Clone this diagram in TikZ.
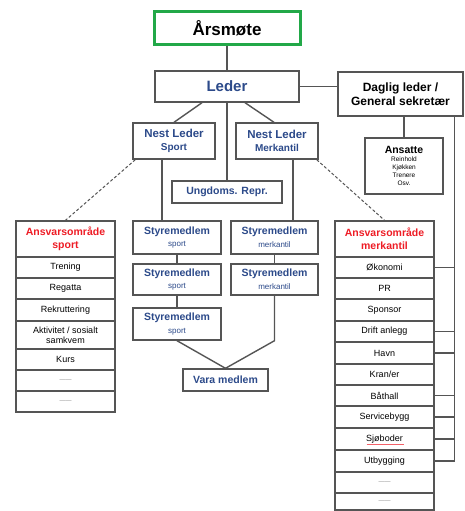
\documentclass[tikz,border=0pt]{standalone}
\usepackage{fontspec}
\setmainfont{Liberation Sans}
\usepackage{xcolor}
\usepackage{tikz}
\usetikzlibrary{positioning,calc}

\definecolor{ledblue}{RGB}{44,74,138}
\definecolor{ansred}{RGB}{238,28,37}
\definecolor{motegreen}{RGB}{34,168,72}
\definecolor{linegray}{RGB}{85,85,85}

\newcommand{\emptyrow}{{\color{gray}\fontsize{6}{7}\selectfont ------}}

\begin{document}
\begin{tikzpicture}[x=1pt,y=1pt,line/.style={linegray,line width=1.4pt}]
	\tikzset{span/.style n args={4}{at={({(#1+#3)/2},{-(#2+#4)/2})}, minimum width={(#3-#1)*1pt}, minimum height={(#4-#2)*1pt}}}
	\tikzset{set/.style={draw=linegray,line width=1.4pt,rectangle,inner sep=0pt,align=center,fill=white}}
	\tikzset{rowbox/.style={set,font=\fontsize{9}{10}\selectfont}}
	\tikzset{bluebox/.style={set,text=ledblue,font=\bfseries\fontsize{10.5}{12.6}\selectfont}}
	\tikzset{redhead/.style={set,text=ansred,font=\bfseries\fontsize{10.5}{12.6}\selectfont}}

	\useasboundingbox (0,0) rectangle (465,-511);

	% Topp
	\node[span={154}{12}{300}{45}, set, draw=motegreen, line width=3pt, font=\bfseries\fontsize{17}{20}\selectfont] (aarsmote) {Årsmøte};
	\node[span={155}{71}{299}{102}, set, text=ledblue, font=\bfseries\fontsize{15}{18}\selectfont] (leder) {Leder};
	\node[span={338}{72}{463}{116}, set, font=\bfseries\fontsize{12}{14.5}\selectfont] (daglig) {Daglig leder /\\General sekretær};
	\node[span={365}{138}{443}{194}, set, font=\fontsize{6.5}{8.2}\selectfont] (ansatte) {{\bfseries\fontsize{10.5}{12}\selectfont Ansatte}\\Reinhold\\Kjøkken\\Trenere\\Osv.};

	% Nestledere
	\node[span={133}{123}{215}{159}, bluebox, font=\bfseries\fontsize{11.5}{13.5}\selectfont] (nlsport) {Nest Leder\\{\fontsize{10}{12}\selectfont Sport}};
	\node[span={236}{123}{318}{159}, bluebox, font=\bfseries\fontsize{11.5}{13.5}\selectfont] (nlmerk) {Nest Leder\\{\fontsize{10}{12}\selectfont Merkantil}};
	\node[span={172}{181}{282}{203}, bluebox] (ungdom) {Ungdoms. Repr.};

	% Styremedlemmer
	\node[span={133}{221}{221}{254}, bluebox] (stysport1) {Styremedlem\\{\mdseries\fontsize{8}{9}\selectfont sport}};
	\node[span={133}{264}{221}{295}, bluebox] (stysport2) {Styremedlem\\{\mdseries\fontsize{8}{9}\selectfont sport}};
	\node[span={133}{308}{221}{340}, bluebox] (stysport3) {Styremedlem\\{\mdseries\fontsize{8}{9}\selectfont sport}};
	\node[span={231}{221}{318}{254}, bluebox] (stymerk1) {Styremedlem\\{\mdseries\fontsize{8}{9}\selectfont merkantil}};
	\node[span={231}{264}{318}{295}, bluebox] (stymerk2) {Styremedlem\\{\mdseries\fontsize{8}{9}\selectfont merkantil}};
	\node[span={183}{369}{268}{391}, bluebox] (vara) {Vara medlem};

	% Ansvarsomraader
	\node[span={16}{221}{115}{257}, redhead] (anssport) {Ansvarsområde\\sport};
	\foreach \t/\b/\txt [count=\i] in {257/278/Trening, 278/299/Regatta, 299/321/Rekruttering, 321/349/{Aktivitet / sosialt\\samkvem}, 349/370/Kurs, 370/391/\emptyrow, 391/412/\emptyrow}
		\node[span={16}{\t}{115}{\b}, rowbox] (sp\i) {\txt};

	\node[span={335}{221}{434}{257}, redhead] (ansmerk) {Ansvarsområde\\merkantil};
	\foreach \t/\b/\txt [count=\i] in {257/278/Økonomi, 278/299/PR, 299/321/Sponsor, 321/342/Drift anlegg, 342/364/Havn, 364/385/{Kran/er}, 385/406/Båthall, 406/428/Servicebygg, 428/450/Sjøboder, 450/472/Utbygging, 472/493/\emptyrow, 493/510/\emptyrow}
		\node[span={335}{\t}{434}{\b}, rowbox] (mk\i) {\txt};
	\draw[ansred!70,line width=0.6pt] ([xshift=-18pt,yshift=-5pt]mk9.center) -- ++(37,0);

	% Linjer
	\draw[line] (aarsmote) -- (leder);
	\draw[line] (leder.east) -- (leder.east -| daglig.west);
	\draw[line] ([xshift=-25pt]leder.south) -- (nlsport.north);
	\draw[line] ([xshift=18pt]leder.south) -- ([xshift=-3pt]nlmerk.north);
	\draw[line] (leder.south) -- (ungdom.north);
	\coordinate (sdrop) at ([xshift=-12pt]nlsport.south);
	\coordinate (mdrop) at ([xshift=16pt]nlmerk.south);
	\draw[line] (sdrop) -- (sdrop |- stysport1.north);
	\draw[line] (mdrop) -- (mdrop |- stymerk1.north);
	\draw[line] (stysport1) -- (stysport2);
	\draw[line] (stysport2) -- (stysport3);
	\draw[line] (stymerk1) -- (stymerk2);
	\draw[line] (stysport3.south) -- (vara.north);
	\draw[line] (stymerk2.south) -- (stymerk2.south |- stysport3.south) -- (vara.north);
	\draw[line,line width=1pt,dash pattern=on 3pt off 2pt] ([xshift=3pt]nlsport.south west) -- (anssport.north);
	\draw[line,line width=1pt,dash pattern=on 3pt off 2pt] ([xshift=-2pt]nlmerk.south east) -- (ansmerk.north);
	\draw[line] (ansatte.north |- daglig.south) -- (ansatte.north);
	\coordinate (bus) at ([xshift=-9pt]daglig.south east);
	\draw[line] (bus) |- (mk10.east);
	\foreach \i in {1,4,5,7,8,9}
		\draw[line] (mk\i.east) -- (mk\i.east -| bus);

\end{tikzpicture}
\end{document}
